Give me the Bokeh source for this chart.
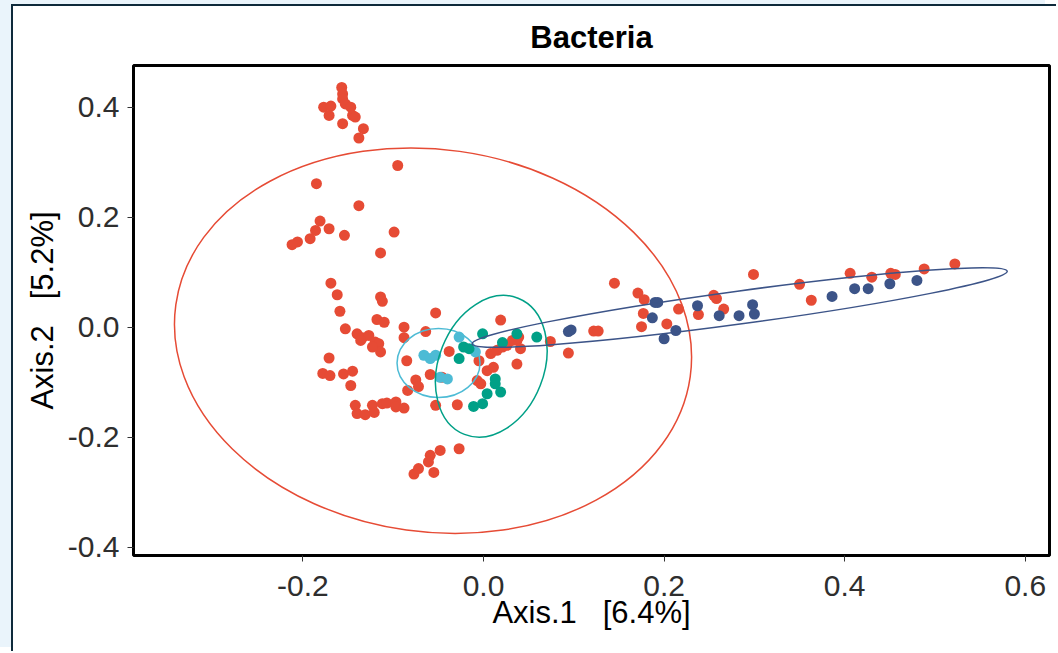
from bokeh.plotting import figure
from bokeh.models import Range1d, FixedTicker, NumeralTickFormatter, ColumnDataSource
from bokeh.embed import file_html
from bokeh.resources import INLINE

# ---------------- data ----------------
group_red_x = [-0.157, -0.156, -0.156, -0.177, -0.169, -0.171, -0.153, -0.147, -0.145, -0.142,
               -0.156, -0.133, -0.138,
               -0.095, -0.185, -0.138, -0.181, -0.186, -0.171, -0.192, -0.206, -0.212, -0.154,
               -0.099, -0.114,
               -0.169, -0.162, -0.114, -0.112, -0.159, -0.118, -0.110, -0.153, -0.140, -0.134,
               -0.127, -0.120, -0.116, -0.114, -0.123, -0.136, -0.171, -0.178, -0.170, -0.155,
               -0.145, -0.147, -0.142, -0.140, -0.131, -0.123, -0.121, -0.112, -0.107, -0.097,
               -0.097,
               -0.053, -0.088, -0.064, -0.088, -0.085, -0.059, -0.038, -0.075, -0.072, -0.084,
               -0.088, -0.053, -0.029, -0.046, -0.005, -0.007, -0.003, 0.004, 0.011, 0.019,
               0.008, 0.015, 0.021, 0.026, 0.037, 0.041, 0.037, 0.074, 0.094, 0.032, 0.039,
               -0.027, -0.048, -0.059, -0.061, -0.077, -0.055, -0.072,
               0.145, 0.171, 0.178, 0.177, 0.175, 0.203, 0.216, 0.238, 0.255, 0.258, 0.266,
               0.299, 0.122, 0.127, 0.350, 0.363, 0.406, 0.430, 0.451, 0.456, 0.488, 0.522]
group_red_y = [0.436, 0.424, 0.415, 0.400, 0.402, 0.385, 0.406, 0.400, 0.385, 0.382,
               0.370, 0.361, 0.344,
               0.294, 0.261, 0.221, 0.193, 0.176, 0.179, 0.161, 0.155, 0.150, 0.167,
               0.173, 0.135,
               0.080, 0.059, 0.055, 0.047, 0.029, 0.014, 0.009, -0.003, -0.012, -0.019,
               -0.015, -0.027, -0.030, -0.045, -0.036, -0.024, -0.056, -0.084, -0.088, -0.085,
               -0.080, -0.106, -0.142, -0.157, -0.159, -0.142, -0.155, -0.139, -0.138, -0.136,
               -0.145,
               0.026, 0.000, -0.008, -0.019, -0.061, -0.086, -0.044, -0.096, -0.108, -0.115,
               -0.147, -0.142, -0.141, -0.091, -0.061, -0.097, -0.103, -0.079, -0.073, 0.013,
               -0.048, -0.042, -0.036, -0.033, -0.024, -0.039, -0.067, -0.026, -0.047, -0.024,
               -0.018,
               -0.221, -0.224, -0.233, -0.245, -0.267, -0.264, -0.257,
               0.080, 0.062, 0.050, 0.025, 0.001, 0.006, 0.033, 0.023, 0.058, 0.052, 0.033,
               0.096, -0.007, -0.007, 0.078, 0.049, 0.098, 0.091, 0.098, 0.096, 0.106, 0.115]

group_cyan_x = [-0.027, -0.066, -0.059, -0.053, -0.048, -0.040, -0.009]
group_cyan_y = [-0.018, -0.051, -0.057, -0.051, -0.091, -0.094, -0.045]

group_green_x = [-0.022, -0.016, -0.027, -0.001, 0.037, 0.059, 0.013, 0.013, 0.019, 0.004,
                 -0.001, -0.011, 0.021]
group_green_y = [-0.036, -0.039, -0.057, -0.012, -0.012, -0.018, -0.094, -0.103, -0.118, -0.121,
                 -0.139, -0.144, -0.028]

group_blue_x = [0.097, 0.094, 0.190, 0.193, 0.187, 0.213, 0.200, 0.237, 0.261, 0.283,
                0.298, 0.300, 0.386, 0.411, 0.426, 0.450, 0.480]
group_blue_y = [-0.005, -0.008, 0.045, 0.045, 0.017, -0.006, -0.021, 0.039, 0.021, 0.021,
                0.041, 0.024, 0.056, 0.070, 0.070, 0.079, 0.085]

# confidence ellipses (centre, full width/height, rotation)
ellipse_group = ["red", "cyan", "green", "blue"]
ellipse_cx = [-0.0559, -0.0498, 0.0086, 0.2837]
ellipse_cy = [-0.0246, -0.0651, -0.0711, 0.0358]
ellipse_w = [0.5752, 0.0919, 0.1165, 0.598]
ellipse_h = [0.6953, 0.1255, 0.2662, 0.060]
ellipse_angle = [-0.1396, 0.0, -0.375, 0.135]

x_ticks = [-0.2, 0.0, 0.2, 0.4, 0.6]
y_ticks = [-0.4, -0.2, 0.0, 0.2, 0.4]

title_text = "Bacteria"
x_label = "Axis.1 \u00a0 [6.4%]"
y_label = "Axis.2 \u00a0 [5.2%]"

palette = {"red": "#E64B35", "cyan": "#4DBBD5", "green": "#00A087", "blue": "#3C5488"}

FONT = "Liberation Sans"

p = figure(width=1045, height=647,
           x_range=Range1d(-0.3876, 0.6268), y_range=Range1d(-0.4151, 0.4758),
           output_backend="svg", toolbar_location=None,
           min_border_left=120, min_border_right=9, min_border_top=59, min_border_bottom=98,
           background_fill_color="white", border_fill_color="white")

# page decoration around the chart (thin dark frame on a pale blue page)
p.styles = {"margin-left": "11px", "margin-top": "4px",
            "border-left": "2px solid #0e2a3b", "border-top": "2px solid #0e2a3b",
            "box-shadow": "-11px -4px 0 0 #eaf4fb"}

p.title.text = title_text
p.title.align = "center"
p.title.text_font = FONT
p.title.text_font_size = "31px"
p.title.text_font_style = "bold"
p.title.text_color = "black"
p.title.standoff = 22

p.xgrid.visible = False
p.ygrid.visible = False
p.outline_line_color = "black"
p.outline_line_width = 3
p.outline_line_alpha = 1.0

p.xaxis.ticker = FixedTicker(ticks=x_ticks)
p.yaxis.ticker = FixedTicker(ticks=y_ticks)
p.axis.formatter = NumeralTickFormatter(format="0.0")
p.xaxis.axis_label = x_label
p.yaxis.axis_label = y_label
for ax in (p.xaxis, p.yaxis):
    ax.axis_line_color = None
    ax.major_tick_line_color = "#333333"
    ax.major_tick_line_width = 1
    ax.major_tick_in = 0
    ax.major_tick_out = 6
    ax.minor_tick_in = 0
    ax.minor_tick_out = 0
    ax.major_label_text_font = FONT
    ax.major_label_text_font_size = "30px"
    ax.major_label_text_color = "#2e2e2e"
    ax.axis_label_text_font = FONT
    ax.axis_label_text_font_size = "31px"
    ax.axis_label_text_font_style = "normal"
    ax.axis_label_text_color = "black"
p.xaxis.major_label_standoff = 14
p.yaxis.major_label_standoff = 8
p.xaxis.axis_label_standoff = -4
p.yaxis.axis_label_standoff = 5

groups = [("red", group_red_x, group_red_y), ("cyan", group_cyan_x, group_cyan_y),
          ("green", group_green_x, group_green_y), ("blue", group_blue_x, group_blue_y)]
for name, xs, ys in groups:
    p.scatter(xs, ys, size=11, fill_color=palette[name], line_color=None)

esrc = ColumnDataSource(dict(x=ellipse_cx, y=ellipse_cy, w=ellipse_w, h=ellipse_h,
                             a=ellipse_angle, c=[palette[g] for g in ellipse_group]))
p.ellipse(x="x", y="y", width="w", height="h", angle="a", source=esrc,
          fill_color=None, line_color="c", line_width=1.5)

open("out.html", "w").write(file_html(p, INLINE))
